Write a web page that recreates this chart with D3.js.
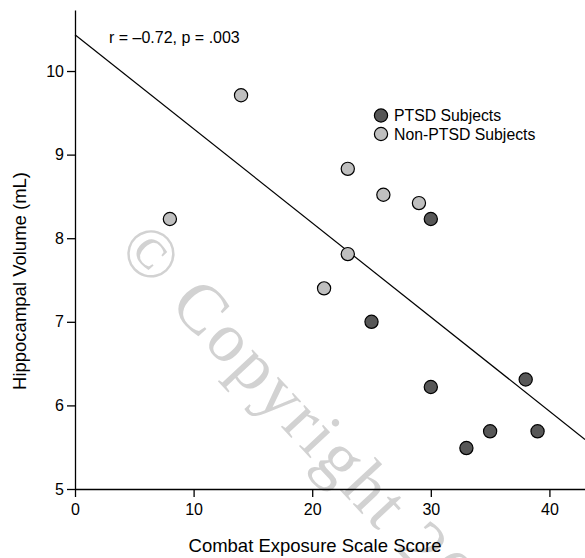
<!DOCTYPE html>
<meta charset="utf-8">
<style>
body { margin: 0; background: #fff; font-family: "Liberation Sans", Arial, sans-serif; }
.axis path,
.axis line {
fill: none;
stroke: #000;
stroke-width: 1.3;
}
.axis text { font-size: 16px; fill: #000; }
</style>
<body>
<script src="https://cdnjs.cloudflare.com/ajax/libs/d3/7.8.5/d3.min.js"></script>
<script>
// data
var ptsdScore  = [30, 25, 30, 38, 33, 35, 39];
var ptsdVolume = [8.23, 7.0, 6.22, 6.31, 5.49, 5.69, 5.69];
var nonScore   = [8, 14, 23, 26, 29, 23, 21];
var nonVolume  = [8.23, 9.71, 8.83, 8.52, 8.42, 7.81, 7.40];
var xTicks = [0, 10, 20, 30, 40];
var yTicks = [5, 6, 7, 8, 9, 10];
var fitIntercept = 10.435, fitSlope = -0.1126;
var seriesNames = ["PTSD Subjects", "Non-PTSD Subjects"];
var seriesColors = ["#575757", "#bfbfbf"];

var W = 585, H = 558;
var margin = {top: 10, right: 0, bottom: 69, left: 75};

var x = d3.scaleLinear().domain([0, 43]).range([margin.left, W - margin.right]);
var y = d3.scaleLinear().domain([5, 10.73]).range([H - margin.bottom, margin.top]);

var svg = d3.select("body").append("svg")
  .attr("width", W)
  .attr("height", H);

// watermark
svg.append("text")
  .attr("transform", "translate(116,250) rotate(47)")
  .style("font-family", "'Liberation Serif', 'Times New Roman', serif")
  .style("font-size", "70px")
  .style("letter-spacing", "3px")
  .style("fill", "#d2d2d2")
  .text("\u00a9 Copyright 20");

// axes
svg.append("g")
  .attr("class", "axis")
  .attr("transform", "translate(0," + y(5) + ")")
  .call(d3.axisBottom(x).tickValues(xTicks).tickSize(8).tickSizeOuter(0).tickPadding(7));

svg.append("g")
  .attr("class", "axis")
  .attr("transform", "translate(" + x(0) + ",0)")
  .call(d3.axisLeft(y).tickValues(yTicks).tickFormat(d3.format("d")).tickSize(8).tickSizeOuter(0).tickPadding(3));

// fit line
svg.append("line")
  .attr("x1", x(0))
  .attr("y1", y(fitIntercept))
  .attr("x2", x(43))
  .attr("y2", y(fitIntercept + fitSlope * 43))
  .style("stroke", "#000")
  .style("stroke-width", 1.2);

// points
function drawPoints(xs, ys, color) {
  svg.append("g").selectAll("circle")
    .data(xs)
    .enter().append("circle")
    .attr("cx", function(d) { return x(d); })
    .attr("cy", function(d, i) { return y(ys[i]); })
    .attr("r", 6.6)
    .style("fill", color)
    .style("stroke", "#000")
    .style("stroke-width", 1.2);
}
drawPoints(nonScore, nonVolume, seriesColors[1]);
drawPoints(ptsdScore, ptsdVolume, seriesColors[0]);

// legend
var legend = svg.append("g").selectAll("g")
  .data(seriesNames)
  .enter().append("g")
  .attr("transform", function(d, i) { return "translate(381," + (115.5 + i * 18.5) + ")"; });
legend.append("circle")
  .attr("r", 6.6)
  .style("fill", function(d, i) { return seriesColors[i]; })
  .style("stroke", "#000")
  .style("stroke-width", 1.2);
legend.append("text")
  .attr("x", 13)
  .attr("y", 5.5)
  .style("font-size", "15.8px")
  .text(function(d) { return d; });

// annotation
svg.append("text")
  .attr("x", 109)
  .attr("y", 42.5)
  .style("font-size", "16px")
  .text("r = \u20130.72, p = .003");

// axis titles
svg.append("text")
  .attr("x", 315)
  .attr("y", 552)
  .attr("text-anchor", "middle")
  .style("font-size", "18.5px")
  .text("Combat Exposure Scale Score");

svg.append("text")
  .attr("transform", "translate(26,281) rotate(-90)")
  .attr("text-anchor", "middle")
  .style("font-size", "18.5px")
  .text("Hippocampal Volume (mL)");
</script>
</body>
